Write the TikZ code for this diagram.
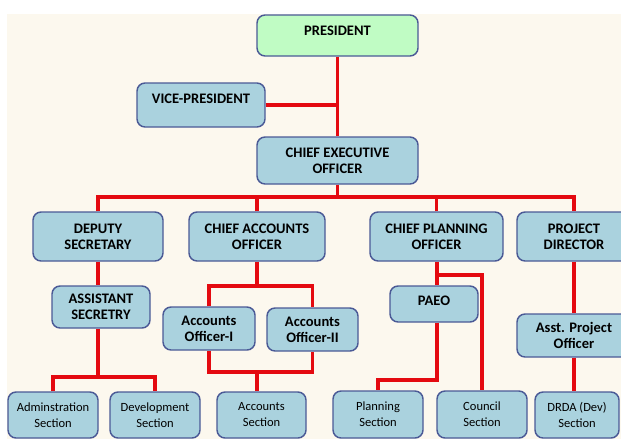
\documentclass[tikz,border=0pt]{standalone}
\usepackage{fontspec}
\setmainfont{Carlito}
\definecolor{bgcream}{RGB}{252,248,238}
\definecolor{boxblue}{RGB}{170,210,222}
\definecolor{boxgreen}{RGB}{192,252,196}
\definecolor{boxline}{RGB}{75,90,150}
\definecolor{linkred}{RGB}{228,10,16}
\newcommand\upby[2]{\raisebox{#1}[\height][\depth]{#2}}
\tikzset{
  box/.style={draw=boxline, line width=1.1pt, fill=boxblue, rounded corners=6pt,
    inner sep=0pt, align=center},
  topbox/.style={box, font=\bfseries\fontsize{10.9}{12}\selectfont},
  lowbox/.style={box, font=\fontsize{9.4}{12}\selectfont},
  link/.style={draw=linkred, line width=2.3pt}
}
\begin{document}
\begin{tikzpicture}[x=0.75pt, y=-0.75pt]
\useasboundingbox (0,0) rectangle (621,439);
\clip (0,0) rectangle (621,439);
\fill[white] (0,0) rectangle (621,439);
\fill[bgcream] (7,14) rectangle (621,439);

% top level
\node[topbox, fill=boxgreen, minimum width=120.75pt, minimum height=30.75pt] (pres) at (337.5,35.5) {\upby{3.5pt}{PRESIDENT}};
\node[topbox, minimum width=96pt, minimum height=33pt] (vp) at (201,105) {\upby{4.5pt}{VICE-PRESIDENT}};
\node[topbox, minimum width=120.75pt, minimum height=35.25pt] (ceo) at (337.5,160.5) {CHIEF EXECUTIVE\\OFFICER};

% second level
\node[topbox, minimum width=97.5pt, minimum height=36.75pt] (ds) at (98,236.5) {DEPUTY\\SECRETARY};
\node[topbox, minimum width=102pt, minimum height=36.75pt] (cao) at (257,236.5) {CHIEF ACCOUNTS\\OFFICER};
\node[topbox, minimum width=99.75pt, minimum height=36.75pt] (cpo) at (436.5,236.5) {CHIEF PLANNING\\OFFICER};
\node[topbox, minimum width=85.5pt, minimum height=36.75pt] (pd) at (574,236.5) {PROJECT\\DIRECTOR};

% third level
\node[topbox, minimum width=73.5pt, minimum height=31.5pt] (as) at (101,307) {ASSISTANT\\SECRETRY};
\node[topbox, minimum width=69pt, minimum height=32.25pt] (ao1) at (209,328.5) {Accounts\\Officer-I};
\node[topbox, minimum width=68.25pt, minimum height=32.25pt] (ao2) at (312.5,329.5) {Accounts\\Officer-II};
\node[topbox, minimum width=66pt, minimum height=27pt] (paeo) at (434,304) {\upby{2.5pt}{PAEO}};
\node[topbox, minimum width=85.5pt, minimum height=32.25pt] (apo) at (574,335.5) {Asst. Project\\Officer};

% sections
\node[lowbox, minimum width=67.5pt, minimum height=34.5pt] (adm) at (53,415) {Adminstration\\Section};
\node[lowbox, minimum width=67.5pt, minimum height=34.5pt] (dev) at (155,415) {Development\\Section};
\node[lowbox, minimum width=66.75pt, minimum height=34.5pt] (acs) at (261.5,415) {Accounts\\Section};
\node[lowbox, minimum width=67.5pt, minimum height=35.25pt] (pls) at (378,414.5) {Planning\\Section};
\node[lowbox, minimum width=67.5pt, minimum height=35.25pt] (cns) at (482,414.5) {Council\\Section};
\node[lowbox, minimum width=63pt, minimum height=34.5pt] (drda) at (577,415) {DRDA (Dev)\\Section};

% junctions
\coordinate (bus) at (337.5,197);
\coordinate (j1) at (98,377);
\coordinate (j2) at (257,286);
\coordinate (j3) at (257,372);
\coordinate (j4) at (437,275);
\coordinate (j5) at (437,380);

% connectors
\draw[link] (pres.south) -- (ceo.north);
\draw[link] (vp.east) -- (vp.east -| pres.south);
\draw[link] (ceo.south) -- (bus);
\draw[link] (ds.north) |- (bus) -| (pd.north);
\draw[link] (cao.north) -- (cao.north |- bus);
\draw[link] (cpo.north) -- (cpo.north |- bus);

\draw[link] (ds.south) -- (ds.south |- as.north);
\draw[link] (ds.south |- as.south) -- (j1);
\draw[link] (adm.north) |- (j1) -| (dev.north);

\draw[link] (cao.south) -- (j2);
\draw[link] (ao1.north) |- (j2) -| (ao2.north);
\draw[link] (ao1.south) |- (j3) -| (ao2.south);
\draw[link] (j3) -- (j3 |- acs.north);

\draw[link] (j4 |- cpo.south) -- (j4 |- paeo.north);
\draw[link] (j4) -| (cns.north);
\draw[link] (j5 |- paeo.south) -- (j5) -| (pls.north);

\draw[link] (pd.south) -- (apo.north);
\draw[link] (apo.south) -- (apo.south |- drda.north);
\end{tikzpicture}
\end{document}
